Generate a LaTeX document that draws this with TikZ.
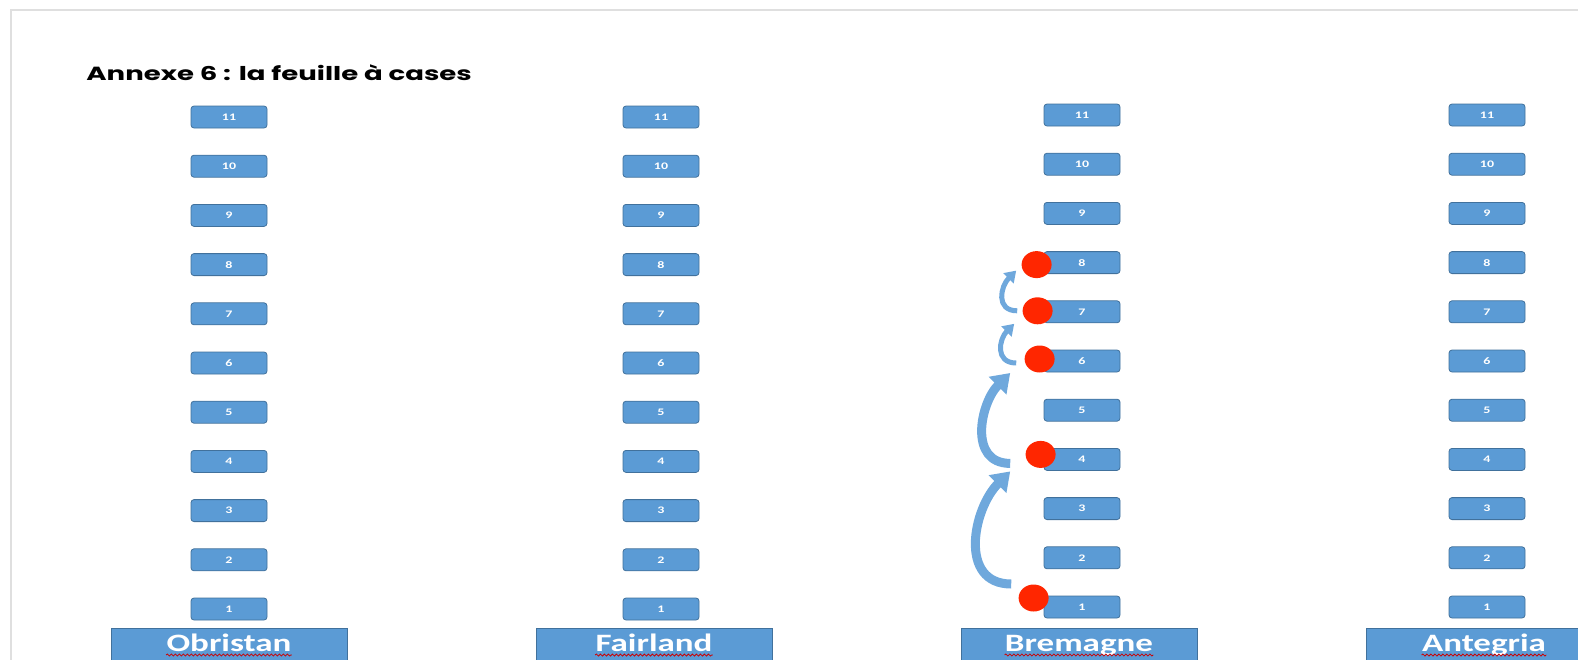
\documentclass[tikz,border=0pt]{standalone}
\usepackage{fontspec}
\setmainfont{Carlito}
\newfontfamily\titlefont{Poppins}
\usetikzlibrary{calc,positioning,shapes.geometric,arrows.meta,decorations.pathmorphing}

\definecolor{boxblue}{RGB}{91,155,213}
\definecolor{boxedge}{RGB}{65,113,156}
\definecolor{arrowblue}{RGB}{111,168,220}
\definecolor{dotred}{RGB}{255,38,0}

\newcommand{\wide}[1]{\scalebox{1.4}[1]{#1}}

\begin{document}
\begin{tikzpicture}[
        x=0.5pt, y=-0.5pt,
        cell/.style={
            rectangle, rounded corners=1.5pt, draw=boxedge, fill=boxblue,
            minimum width=38pt, minimum height=11pt, inner sep=0pt,
            text=white, font=\bfseries\fontsize{5}{5}\selectfont
        },
        country/.style={
            rectangle, draw=boxedge, fill=boxblue, anchor=north,
            minimum width=118pt, minimum height=25pt, inner sep=0pt
        },
        countryname/.style={
            inner sep=0pt, anchor=base, text=white, font=\bfseries\fontsize{12.5}{12.5}\selectfont
        },
        spell/.style={
            draw=red!80!black, line width=0.4pt,
            decorate, decoration={snake, amplitude=0.5pt, segment length=2pt}
        },
        dot/.style={
            ellipse, fill=dotred, minimum width=15pt, minimum height=13.5pt, inner sep=0pt
        },
        jump/.style={
            arrowblue, line width=4.5pt, -{Triangle[width=12pt,length=9pt]}
        },
        hop/.style={
            arrowblue, line width=2.5pt, -{Triangle[width=7pt,length=5.5pt]}
        }
      ]

  \useasboundingbox (0,0) rectangle (1578,659);
  \clip (0,0) rectangle (1578,659);
  \draw[gray!25, line width=0.6pt] (11,10) rectangle (1640,720);

  \node[anchor=base west, inner sep=0pt, font=\titlefont\bfseries\fontsize{9.5}{9.5}\selectfont] (title) at (86,80) {\scalebox{1.45}[1]{Annexe 6 : la feuille à cases}};

  % the four columns of squares
  \foreach \name/\cx/\cy in {obristan/229/609, fairland/661/609, bremagne/1082/607, antegria/1487/607} {
    \foreach \n in {1,...,11} {
      \node[cell] (\name\n) at (\cx,{\cy-(\n-1)*49.2}) {\wide{\n}};
    }
  }

  % country labels
  \foreach \name/\label/\lx in {obristan/Obristan/229, fairland/Fairland/654, bremagne/Bremagne/1079, antegria/Antegria/1484} {
    \node[country] (\name box) at (\lx,628) {};
    \node[countryname] (\name txt) at ($(\name box.north)+(0,23)$) {\wide{\label}};
    \draw[spell] ($(\name txt.base west)+(0,4)$) -- ($(\name txt.base east)+(0,4)$);
  }

  % the pawn
  \node[dot] (dot1) at ($(bremagne1.west)+(-10,-9)$) {};
  \node[dot] (dot4) at ($(bremagne4.west)+(-3,-5)$) {};
  \node[dot] (dot6) at ($(bremagne6.west)+(-4,-2)$) {};
  \node[dot] (dot7) at ($(bremagne7.west)+(-6,-1)$) {};
  \node[dot] (dot8) at ($(bremagne8.west)+(-7,2)$) {};

  \draw[jump] ($(dot1.west)+(-7,-14)$) to[out=180, in=225, looseness=1.2] ($(dot4.west)+(-15,17)$);
  \draw[jump] ($(dot4.west)+(-15,9)$) to[out=180, in=225, looseness=1.2] ($(dot6.west)+(-14,14)$);
  \draw[hop] ($(dot6.west)+(-8,4)$) to[out=180, in=225, looseness=1.4] ($(dot7.west)+(-8,13)$);
  \draw[hop] ($(dot7.west)+(-5,0)$) to[out=180, in=225, looseness=1.4] ($(dot8.west)+(-5,6)$);
\end{tikzpicture}
\end{document}
